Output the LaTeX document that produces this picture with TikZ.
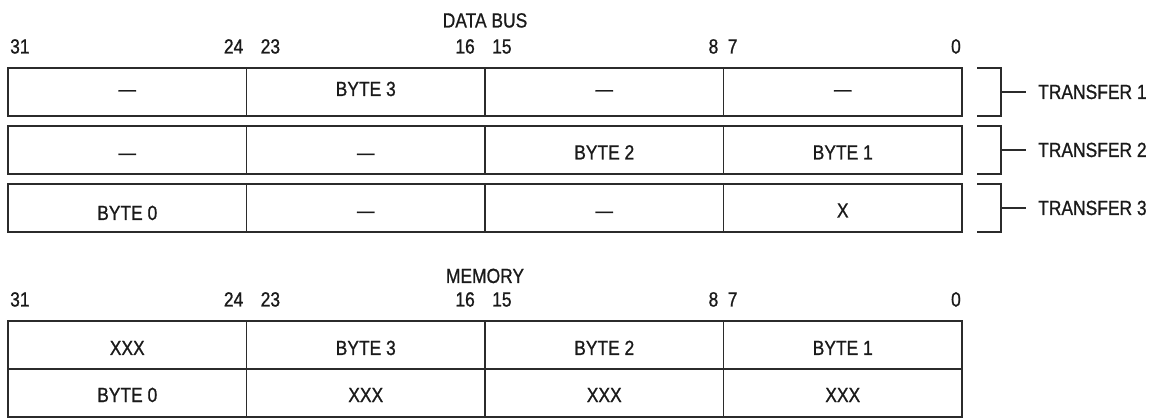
\documentclass[tikz,border=0pt]{standalone}
\usepackage{fontspec}
\setmainfont[FakeStretch=0.85, FakeBold=0.9]{Liberation Sans}
\usepackage{xcolor}
\usepackage{tikz}
\usetikzlibrary{positioning}
\definecolor{linegray}{HTML}{2B2B2B}
\definecolor{inkblack}{HTML}{1A1A1A}

\tikzset{
    cell/.style={draw=linegray, line width=1.4pt, minimum width=238.5pt, minimum height=48pt,
                 inner sep=0pt, outer sep=0pt, text depth=0pt, text=inkblack},
    bitnum/.style={inner sep=0pt, text=inkblack},
    title/.style={inner sep=0pt, text=inkblack, anchor=base},
    bracket/.style={draw=linegray, line width=1.4pt},
    xferlabel/.style={inner xsep=12pt, inner ysep=0pt, text height=14pt, text depth=0pt, text=inkblack}
}

\begin{document}
\begin{tikzpicture}[x=1pt, y=-1pt, font=\fontsize{20.5pt}{24pt}\selectfont]
    \useasboundingbox (0,0) rectangle (1156,419);

    % data bus, three transfers
    \node[cell, text height=8pt] (busA1) at (127.25,92) {—};
    \node[cell, text height=8pt, right=0pt of busA1] (busA2) {BYTE 3};
    \node[cell, text height=8pt, right=0pt of busA2] (busA3) {—};
    \node[cell, text height=8pt, right=0pt of busA3] (busA4) {—};

    \node[cell, text height=19pt, below=10pt of busA1] (busB1) {—};
    \node[cell, text height=19pt, right=0pt of busB1] (busB2) {—};
    \node[cell, text height=19pt, right=0pt of busB2] (busB3) {BYTE 2};
    \node[cell, text height=19pt, right=0pt of busB3] (busB4) {BYTE 1};

    \node[cell, text height=24pt, below=10pt of busB1] (busC1) {BYTE 0};
    \node[cell, text height=19pt, right=0pt of busC1] (busC2) {—};
    \node[cell, text height=19pt, right=0pt of busC2] (busC3) {—};
    \node[cell, text height=19pt, right=0pt of busC3] (busC4) {X};

    % memory
    \node[cell, text height=20pt] (memA1) at (127.25,345) {XXX};
    \node[cell, text height=20pt, right=0pt of memA1] (memA2) {BYTE 3};
    \node[cell, text height=20pt, right=0pt of memA2] (memA3) {BYTE 2};
    \node[cell, text height=20pt, right=0pt of memA3] (memA4) {BYTE 1};

    \node[cell, text height=18pt, below=0pt of memA1] (memB1) {BYTE 0};
    \node[cell, text height=18pt, right=0pt of memB1] (memB2) {XXX};
    \node[cell, text height=18pt, right=0pt of memB2] (memB3) {XXX};
    \node[cell, text height=18pt, right=0pt of memB3] (memB4) {XXX};

    % titles and bit numbers
    \node[title] (busTitle) at ([yshift=40.5pt]busA2.north east) {DATA BUS};
    \node[title] (memTitle) at ([yshift=38pt]memA2.north east) {MEMORY};

    \foreach \grp in {busA, memA} {
        \node[bitnum, anchor=base west] (\grp-31) at ([xshift=2pt, yshift=14.5pt]\grp1.north west) {31};
        \node[bitnum, anchor=base east] (\grp-24) at ([xshift=-3pt, yshift=14.5pt]\grp1.north east) {24};
        \node[bitnum, anchor=base west] (\grp-23) at ([xshift=14pt, yshift=14.5pt]\grp2.north west) {23};
        \node[bitnum, anchor=base east] (\grp-16) at ([xshift=-10pt, yshift=14.5pt]\grp2.north east) {16};
        \node[bitnum, anchor=base west] (\grp-15) at ([xshift=7pt, yshift=14.5pt]\grp3.north west) {15};
        \node[bitnum, anchor=base east] (\grp-8) at ([xshift=-5pt, yshift=14.5pt]\grp3.north east) {8};
        \node[bitnum, anchor=base west] (\grp-7) at ([xshift=4pt, yshift=14.5pt]\grp4.north west) {7};
        \node[bitnum, anchor=base east] (\grp-0) at ([xshift=-1pt, yshift=14.5pt]\grp4.north east) {0};
    }

    % transfer brackets
    \foreach \row/\num in {busA/1, busB/2, busC/3} {
        \draw[bracket] ([xshift=15pt]\row4.north east) -| ([xshift=39pt]\row4.east)
                       |- ([xshift=15pt]\row4.south east);
        \coordinate (\row-tick) at ([xshift=39pt]\row4.east);
        \node[xferlabel, right=25pt of \row-tick] (\row-xfer) {TRANSFER \num};
        \draw[bracket] (\row-tick) -- (\row-xfer);
    }
\end{tikzpicture}
\end{document}
